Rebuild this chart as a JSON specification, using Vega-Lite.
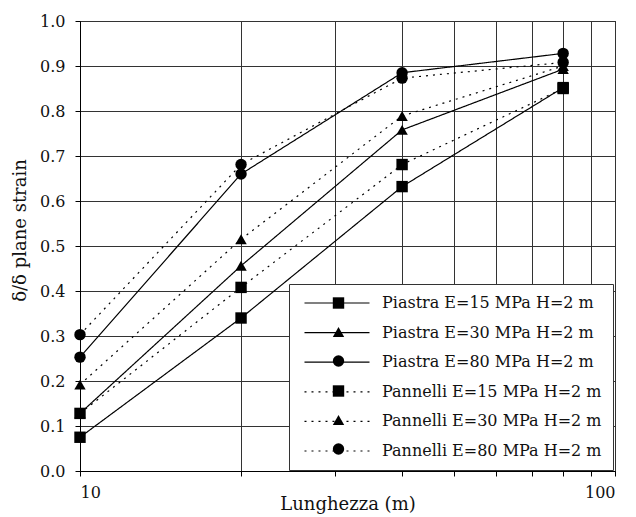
{
  "$schema": "https://vega.github.io/schema/vega-lite/v6.json",
  "width": 535,
  "height": 450,
  "autosize": "none",
  "padding": {"left": 80, "top": 21, "right": 21, "bottom": 46},
  "background": "white",
  "config": {
    "font": "DejaVu Serif",
    "view": {"stroke": "black", "strokeWidth": 1},
    "axis": {
      "gridColor": "#333",
      "gridWidth": 1,
      "gridOpacity": 1,
      "domainColor": "black",
      "tickColor": "black",
      "tickSize": 5,
      "labelFont": "DejaVu Serif",
      "labelFontSize": 16,
      "labelColor": "#111",
      "titleFont": "DejaVu Serif",
      "titleFontSize": 18,
      "titleFontWeight": "normal",
      "titleColor": "#111"
    }
  },
  "data": {
    "values": [
      {"series": "Piastra E=15 MPa H=2 m", "L": 10, "r": 0.075},
      {"series": "Piastra E=15 MPa H=2 m", "L": 20, "r": 0.34},
      {"series": "Piastra E=15 MPa H=2 m", "L": 40, "r": 0.632},
      {"series": "Piastra E=15 MPa H=2 m", "L": 80, "r": 0.852},
      {"series": "Piastra E=30 MPa H=2 m", "L": 10, "r": 0.128},
      {"series": "Piastra E=30 MPa H=2 m", "L": 20, "r": 0.456},
      {"series": "Piastra E=30 MPa H=2 m", "L": 40, "r": 0.758},
      {"series": "Piastra E=30 MPa H=2 m", "L": 80, "r": 0.893},
      {"series": "Piastra E=80 MPa H=2 m", "L": 10, "r": 0.253},
      {"series": "Piastra E=80 MPa H=2 m", "L": 20, "r": 0.66},
      {"series": "Piastra E=80 MPa H=2 m", "L": 40, "r": 0.885},
      {"series": "Piastra E=80 MPa H=2 m", "L": 80, "r": 0.928},
      {"series": "Pannelli E=15 MPa H=2 m", "L": 10, "r": 0.128},
      {"series": "Pannelli E=15 MPa H=2 m", "L": 20, "r": 0.408},
      {"series": "Pannelli E=15 MPa H=2 m", "L": 40, "r": 0.681},
      {"series": "Pannelli E=15 MPa H=2 m", "L": 80, "r": 0.85},
      {"series": "Pannelli E=30 MPa H=2 m", "L": 10, "r": 0.192},
      {"series": "Pannelli E=30 MPa H=2 m", "L": 20, "r": 0.515},
      {"series": "Pannelli E=30 MPa H=2 m", "L": 40, "r": 0.789},
      {"series": "Pannelli E=30 MPa H=2 m", "L": 80, "r": 0.9},
      {"series": "Pannelli E=80 MPa H=2 m", "L": 10, "r": 0.303},
      {"series": "Pannelli E=80 MPa H=2 m", "L": 20, "r": 0.681},
      {"series": "Pannelli E=80 MPa H=2 m", "L": 40, "r": 0.873},
      {"series": "Pannelli E=80 MPa H=2 m", "L": 80, "r": 0.908}
    ]
  },
  "encoding": {
    "x": {
      "field": "L",
      "type": "quantitative",
      "scale": {"type": "log", "domain": [10, 100], "nice": false},
      "axis": {
        "values": [10, 20, 30, 40, 50, 60, 70, 80, 90, 100],
        "labelExpr": "datum.value == 10 || datum.value == 100 ? datum.label : ''",
        "labelPadding": 8,
        "title": "Lunghezza (m)",
        "titlePadding": -5
      }
    },
    "y": {
      "field": "r",
      "type": "quantitative",
      "scale": {"domain": [0, 1], "nice": false},
      "axis": {
        "values": [0, 0.1, 0.2, 0.3, 0.4, 0.5, 0.6, 0.7, 0.8, 0.9, 1.0],
        "format": ".1f",
        "labelPadding": 10,
        "title": "δ/δ  plane strain",
        "titleY": 209,
        "titlePadding": 10
      }
    }
  },
  "layer": [
    {
      "mark": {"type": "line", "color": "black", "strokeWidth": 1.2},
      "encoding": {
        "strokeDash": {
          "field": "series",
          "type": "nominal",
          "sort": null,
          "scale": {"range": [[1, 0], [1, 0], [1, 0], [2, 5], [2, 5], [2, 5]]},
          "legend": {
            "orient": "none",
            "legendX": 209,
            "legendY": 263,
            "title": null,
            "padding": 11,
            "rowPadding": 13.6,
            "symbolType": "M-0.54,0H9.46",
            "symbolSize": 169,
            "symbolStrokeColor": "black",
            "symbolStrokeWidth": 1.2,
            "labelOffset": 66,
            "labelFont": "DejaVu Serif",
            "labelFontSize": 16,
            "labelColor": "#111",
            "labelLimit": 400,
            "strokeColor": "#333",
            "fillColor": "white"
          }
        }
      }
    },
    {
      "mark": {"type": "point", "filled": true, "color": "black", "opacity": 1, "size": 130},
      "encoding": {
        "shape": {
          "field": "series",
          "type": "nominal",
          "scale": {
            "domain": ["Piastra E=15 MPa H=2 m", "Piastra E=30 MPa H=2 m", "Piastra E=80 MPa H=2 m", "Pannelli E=15 MPa H=2 m", "Pannelli E=30 MPa H=2 m", "Pannelli E=80 MPa H=2 m"],
            "range": ["square", "triangle-up", "circle", "square", "triangle-up", "circle"]
          },
          "legend": {
            "orient": "none",
            "legendX": 239.5,
            "legendY": 263,
            "title": null,
            "padding": 11,
            "rowPadding": 12,
            "symbolSize": 130,
            "symbolFillColor": "black",
            "symbolStrokeColor": "black",
            "symbolOpacity": 1,
            "labelOffset": 11,
            "labelExpr": "' '",
            "labelFont": "DejaVu Serif",
            "labelFontSize": 16,
            "labelLimit": 400
          }
        }
      }
    }
  ]
}
